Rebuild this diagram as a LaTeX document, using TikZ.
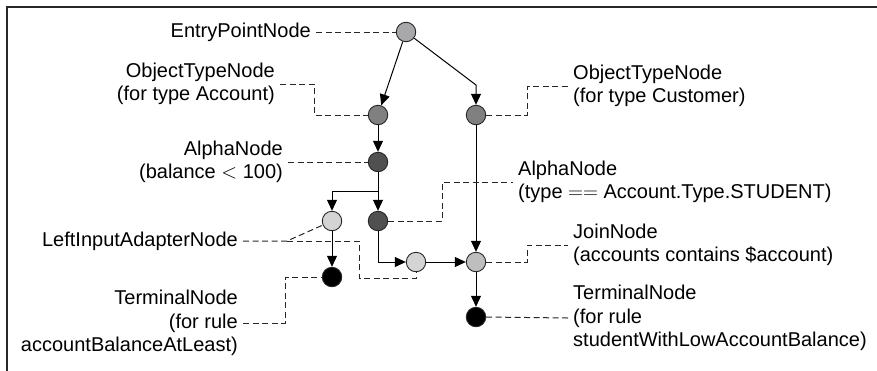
\documentclass[tikz,border=0pt]{standalone}
\usepackage{fontspec}
\setmainfont{Liberation Sans}
\usepackage{xcolor}
\usepackage{tikz}
\usetikzlibrary{positioning, arrows.meta}
\definecolor{entrygray}{RGB}{168,168,171}
\definecolor{otngray}{RGB}{128,128,128}
\definecolor{alphagray}{RGB}{80,80,80}
\definecolor{adaptergray}{RGB}{212,212,212}
\definecolor{joingray}{RGB}{190,190,190}
\definecolor{framegray}{RGB}{40,40,40}
\newcommand{\lblfont}{\fontsize{20}{23.5}\selectfont}

\begin{document}
\begin{tikzpicture}[
  x=1pt, y=-1pt,
  rnode/.style={circle, draw=black!85, line width=0.9pt, minimum size=19.5pt,
                inner sep=0pt},
  lbl/.style={font=\lblfont, inner xsep=5pt, inner ysep=0pt},
  lbll/.style={lbl, anchor=east, align=right},
  lblr/.style={lbl, anchor=west, align=left},
  arr/.style={-{Triangle[length=11pt, width=10pt]}, line width=1pt, color=black},
  dsh/.style={line width=1pt, color=black!85, dash pattern=on 6pt off 3.5pt},
]
  \useasboundingbox (0,0) rectangle (877,370);
  \draw[line width=1.8pt, framegray] (7,372) -- (7,7) -- (879,7);

  % network nodes
  \node[rnode, fill=entrygray] (entry) at (406,32) {};
  \node[rnode, fill=otngray] (otnA) at (378,115) {};
  \node[rnode, fill=otngray] (otnC) at (476,115) {};
  \node[rnode, fill=alphagray] (alpha) at (378,162) {};
  \node[rnode, fill=alphagray] (alphaS) at (378,221) {};
  \node[rnode, fill=adaptergray] (lia) at (332,221) {};
  \node[rnode, fill=black] (term1) at (332,277) {};
  \node[rnode, fill=adaptergray] (mid) at (416,262) {};
  \node[rnode, fill=joingray] (join) at (476,262) {};
  \node[rnode, fill=black] (term2) at (476,317) {};

  % labels
  \node[lbll] (entryL) at (316,32) {EntryPointNode};
  \node[lbll] (otnAL) at (280,84) {ObjectTypeNode\\(for type Account)};
  \node[lbll] (alphaL) at (288,162) {AlphaNode\\(balance $<$ 100)};
  \node[lbll] (liaL) at (243,241) {LeftInputAdapterNode};
  \node[lbll] (term1L) at (243,323) {TerminalNode\\(for rule\\accountBalanceAtLeast)};
  \node[lblr] (otnCL) at (568,86) {ObjectTypeNode\\(for type Customer)};
  \node[lblr] (alphaSL) at (513,182) {AlphaNode\\(type $==$ Account.Type.STUDENT)};
  \node[lblr] (joinL) at (568,245) {JoinNode\\(accounts contains \$account)};
  \node[lblr] (term2L) at (568,318) {TerminalNode\\(for rule\\studentWithLowAccountBalance)};

  \coordinate (bendC) at (476,85);
  \coordinate (split) at (378,191);
  \coordinate (liaK) at (287,241);

  \draw[arr] (entry) -- (otnA);
  \draw[arr] (entry) -- (bendC) -- (otnC);
  \draw[arr] (otnA) -- (alpha);
  \draw[arr] (alpha) -- (alphaS);
  \draw[arr] (split) -| (lia);
  \draw[arr] (alphaS) |- (mid);
  \draw[arr] (mid) -- (join);
  \draw[arr] (otnC) -- (join);
  \draw[arr] (lia) -- (term1);
  \draw[arr] (join) -- (term2);

  \draw[dsh] (entryL.east) -- (entry);
  \draw[dsh] (otnAL.east) -- ++(34,0) |- (otnA);
  \draw[dsh] (alphaL.east) -- (alpha);
  \draw[dsh] (otnC.east) -- ++(41,0) |- (otnCL.west);
  \draw[dsh] (alphaS.east) -- ++(54,0) |- (alphaSL.west);
  \draw[dsh] (join.east) -- ++(41,0) |- (joinL.west);
  \draw[dsh] (term2.east) -- (term2L.west);
  \draw[dsh] (liaL.east) -- (liaK) -- (lia);
  \draw[dsh] (liaK) -- ++(72,0) -- ++(0,37) -| (mid);
  \draw[dsh] (term1L.east) -- ++(42,0) |- (term1);
\end{tikzpicture}
\end{document}
